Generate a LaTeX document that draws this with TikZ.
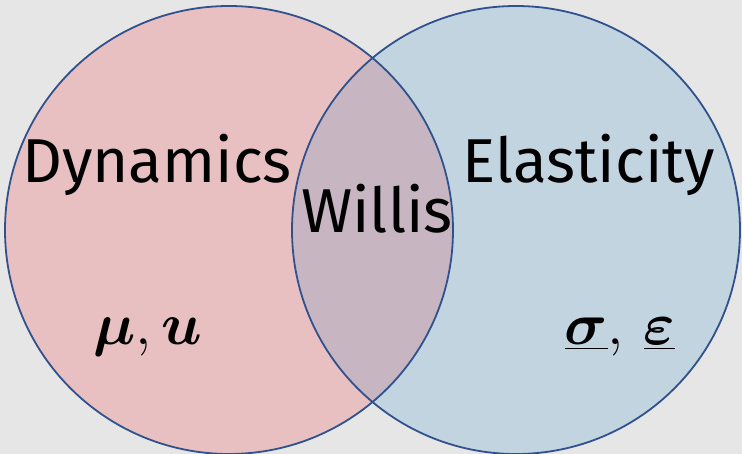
\documentclass[tikz,border=0pt]{standalone}
\usepackage{graphicx}
\usepackage{fontspec}
\setmainfont{Fira Sans}
\usepackage{bm}

\definecolor{bggray}{HTML}{E6E6E6}
\definecolor{dynpink}{HTML}{E8C0C1}
\definecolor{elablue}{HTML}{C3D4E1}
\definecolor{willismauve}{HTML}{C7B6C2}
\definecolor{vennline}{HTML}{2F528F}

\newcommand{\bigsym}[1]{\scalebox{2.4}{\Huge $#1$}}

\begin{document}
\begin{tikzpicture}[x=1pt, y=-1pt,
    ring/.style={draw=vennline, line width=1.8pt},
    word/.style={anchor=base, inner sep=0pt, font=\fontsize{62}{64}\selectfont},
    sym/.style={anchor=base, inner sep=0pt}]

  % Achtergrond
  \fill[bggray] (0,0) rectangle (742,454);
  \useasboundingbox (0,0) rectangle (742,454);

  % Middelpunten van de cirkels
  \coordinate (L) at (229,230);
  \coordinate (R) at (516,230);

  % Vlakken
  \fill[dynpink] (L) circle (224pt);
  \fill[elablue] (R) circle (224pt);
  \begin{scope}
    \clip (L) circle (224pt);
    \fill[willismauve] (R) circle (224pt);
  \end{scope}

  % Randen
  \draw[ring] (L) circle (224pt);
  \draw[ring] (R) circle (224pt);

  % Namen
  \node[word] (dyn) at (157,183) {Dynamics};
  \node[word] (ela) at (589,183) {Elasticity};
  \node[word] (wil) at (377,233) {Willis};

  % Grootheden
  \node[sym] (mu)  at (148,345) {\bigsym{\bm{\mu},\bm{u}}};
  \node[sym] (sig) at (620,345) {\bigsym{\underline{\bm{\sigma}},\,\underline{\bm{\varepsilon}}}};

\end{tikzpicture}
\end{document}
